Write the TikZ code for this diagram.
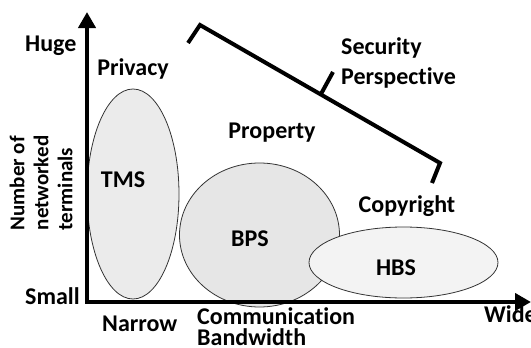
\documentclass[tikz,border=0pt]{standalone}
\usepackage{fontspec}
\setmainfont{Carlito}[Ligatures=NoCommon]
\usepackage{tikz}
\usepackage{xcolor}
\usetikzlibrary{arrows.meta}
\definecolor{tmsfill}{HTML}{EBEBEB}
\definecolor{bpsfill}{HTML}{E6E6E6}
\definecolor{hbsfill}{HTML}{F3F3F3}
\newcommand*{\AxisTip}{Triangle[length=16pt,width=17pt]}

\begin{document}
\begin{tikzpicture}[x=1pt,y=-1pt,
    lbl/.style={font=\bfseries\fontsize{24}{24}\selectfont, inner sep=0pt},
    zone/.style={draw=black!80, line width=0.8pt}]
    \useasboundingbox (0,0) rectangle (531,348);
    % regions
    \filldraw[zone, fill=tmsfill] (133,194) ellipse [x radius=46, y radius=105];
    \filldraw[zone, fill=bpsfill] (259.5,235) ellipse [x radius=80, y radius=72];
    \filldraw[zone, fill=hbsfill] (403.5,262.5) ellipse [x radius=94.5, y radius=35.5];
    % axes
    \coordinate (origin) at (87,302);
    \coordinate (ytip) at (87,12);
    \coordinate (xtip) at (531,302);
    \draw[line width=4pt, {\AxisTip}-{\AxisTip}] (ytip) -- (origin) -- (xtip);
    % bracket
    \coordinate (bstart) at (188,43);
    \coordinate (bleft) at (200,25);
    \coordinate (bright) at (440,163);
    \coordinate (bend) at (432,183);
    \coordinate (tickfoot) at (321,94);
    \coordinate (ticktop) at (333,72);
    \draw[line width=4pt] (bstart) -- (bleft) -- (bright) -- (bend);
    \draw[line width=4pt] (tickfoot) -- (ticktop);
    % labels
    \node[lbl, anchor=base west] (huge) at (25,51) {Huge};
    \node[lbl, anchor=base west] (small) at (25,304) {Small};
    \node[lbl, anchor=base west] (narrow) at (102,331) {Narrow};
    \node[lbl, anchor=base west, align=left, font=\bfseries\fontsize{24}{21}\selectfont]
        (bandwidth) at (197,345) {Communication\\Bandwidth};
    \node[lbl, anchor=base west] (wide) at (484,322) {Wide};
    \node[lbl, anchor=base] (privacy) at (133,75) {Privacy};
    \node[lbl, anchor=base] (property) at (272,138) {Property};
    \node[lbl, anchor=base] (copyright) at (407,212) {Copyright};
    \node[lbl, anchor=base west, align=left, font=\bfseries\fontsize{24}{30}\selectfont]
        (security) at (341,84) {Security\\Perspective};
    \node[lbl, anchor=base] (tms) at (123,187) {TMS};
    \node[lbl, anchor=base] (bps) at (250,246) {BPS};
    \node[lbl, anchor=base] (hbs) at (396,275) {HBS};
    \node[lbl, rotate=90, align=left, font=\bfseries\fontsize{21}{24}\selectfont]
        (terminals) at (41,183) {Number of\\networked\\terminals};
\end{tikzpicture}
\end{document}
